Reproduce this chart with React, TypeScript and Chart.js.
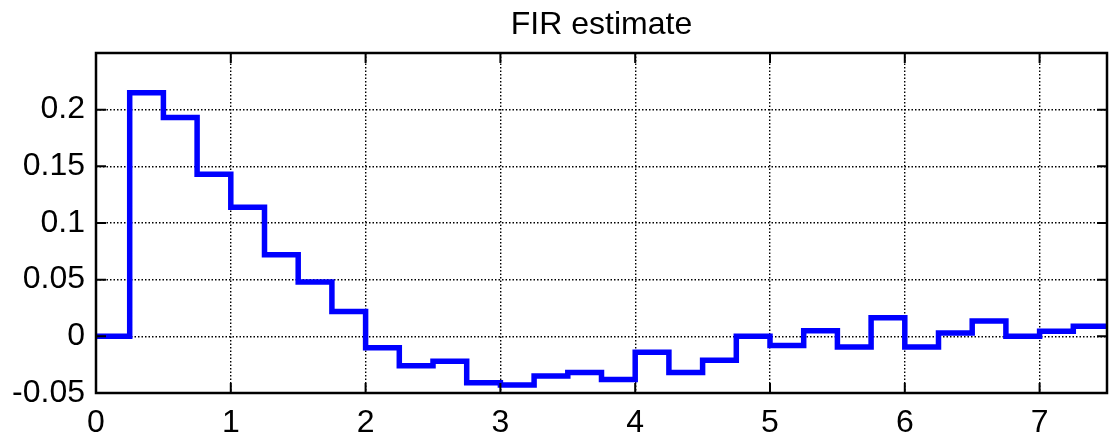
import React, { useEffect, useRef } from "react";
import { Chart, registerables } from "chart.js";

Chart.register(...registerables);

// sample times (s), left edge of each FIR step; last entry closes the final step
const times = [
  0, 0.25, 0.5, 0.75, 1, 1.25, 1.5, 1.75, 2, 2.25, 2.5, 2.75, 3, 3.25, 3.5, 3.75,
  4, 4.25, 4.5, 4.75, 5, 5.25, 5.5, 5.75, 6, 6.25, 6.5, 6.75, 7, 7.25, 7.5,
];
// FIR estimate values
const firValues = [
  0, 0.215, 0.193, 0.143, 0.114, 0.072, 0.048, 0.022, -0.01, -0.026, -0.022,
  -0.041, -0.043, -0.035, -0.032, -0.038, -0.014, -0.032, -0.021, 0.0, -0.008,
  0.005, -0.0095, 0.0165, -0.0095, 0.003, 0.0135, 0.0, 0.0045, 0.009, 0.009,
];
const titleText = "FIR estimate";
const xMin = 0;
const xMax = 7.5;
const yMin = -0.05;
const yMax = 0.25;

const FONT = "'Liberation Sans', Arial, Helvetica, sans-serif";
const FONT_SIZE = 32;

const framePlugin = {
  id: "matlabFrame",
  afterDatasetsDraw(chart: any) {
    const { ctx, chartArea, scales } = chart;
    const { left, right, top, bottom } = chartArea;
    const tl = 10;
    ctx.save();
    ctx.strokeStyle = "#000";
    ctx.lineWidth = 2;
    ctx.beginPath();
    scales.x.ticks.forEach((t: any) => {
      const px = scales.x.getPixelForValue(t.value);
      if (px <= left + 1 || px >= right - 1) return;
      ctx.moveTo(px, bottom);
      ctx.lineTo(px, bottom - tl);
      ctx.moveTo(px, top);
      ctx.lineTo(px, top + tl);
    });
    scales.y.ticks.forEach((t: any) => {
      const py = scales.y.getPixelForValue(t.value);
      if (py <= top + 1 || py >= bottom - 1) return;
      ctx.moveTo(left, py);
      ctx.lineTo(left + tl, py);
      ctx.moveTo(right, py);
      ctx.lineTo(right - tl, py);
    });
    ctx.stroke();
    ctx.lineWidth = 2.5;
    ctx.strokeRect(left, top, right - left, bottom - top);
    // title centred over the axes
    ctx.fillStyle = "#000";
    ctx.font = `${FONT_SIZE}px ${FONT}`;
    ctx.textAlign = "center";
    ctx.textBaseline = "alphabetic";
    ctx.fillText(titleText, (left + right) / 2, top - 19);
    ctx.restore();
  },
};

export default function App() {
  const ref = useRef<HTMLCanvasElement>(null);
  useEffect(() => {
    if (!ref.current) return;
    const chart = new Chart(ref.current, {
      type: "line",
      data: {
        datasets: [
          {
            data: times.map((t, i) => ({ x: t, y: firValues[i] })),
            borderColor: "#0000ff",
            borderWidth: 5.5,
            stepped: "before",
            pointRadius: 0,
            fill: false,
          },
        ],
      },
      plugins: [framePlugin],
      options: {
        animation: false,
        responsive: true,
        maintainAspectRatio: false,
        layout: { padding: { left: 0, right: 3, top: 53, bottom: 0 } },
        plugins: {
          legend: { display: false },
          tooltip: { enabled: false },
          title: { display: false },
        },
        scales: {
          x: {
            type: "linear",
            min: xMin,
            max: xMax,
            afterFit: (s: any) => {
              s.height = 39;
            },
            border: { display: false, dash: [1.5, 2] },
            grid: {
              color: "#000",
              lineWidth: 1.4,
              drawTicks: false,
            },
            ticks: {
              stepSize: 1,
              includeBounds: false,
              color: "#000",
              padding: 11,
              maxRotation: 0,
              font: { family: FONT, size: FONT_SIZE },
              callback: (v: any) => String(Math.round(Number(v) * 100) / 100),
            },
          },
          y: {
            type: "linear",
            min: yMin,
            max: yMax,
            afterFit: (s: any) => {
              s.width = 96;
            },
            border: { display: false, dash: [1.5, 2] },
            grid: {
              color: "#000",
              lineWidth: 1.4,
              drawTicks: false,
            },
            ticks: {
              stepSize: 0.05,
              color: "#000",
              padding: 11,
              font: { family: FONT, size: FONT_SIZE },
              callback: (v: any) => {
                const n = Math.round(Number(v) * 100) / 100;
                if (n >= yMax - 1e-9) return "";
                return String(n);
              },
            },
          },
        },
      } as any,
    });
    return () => chart.destroy();
  }, []);
  return (
    <div style={{ position: "absolute", left: 0, top: 0, width: 1110, height: 432, background: "#fff" }}>
      <canvas ref={ref} />
    </div>
  );
}
